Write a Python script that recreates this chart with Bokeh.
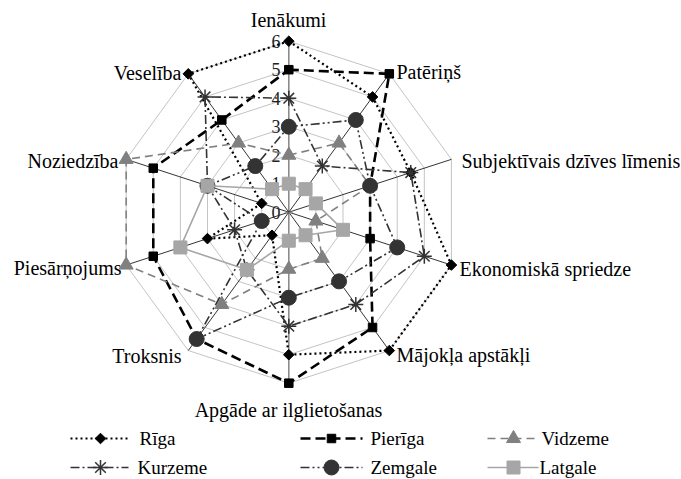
import math
from bokeh.plotting import figure
from bokeh.core.properties import value
from bokeh.embed import file_html
from bokeh.resources import INLINE

# ---------------- data ----------------
categories = ["Ienākumi", "Patēriņš", "Subjektīvais dzīves līmenis",
              "Ekonomiskā spriedze", "Mājokļa apstākļi",
              "Apgāde ar ilglietošanas", "Troksnis", "Piesārņojums",
              "Noziedzība", "Veselība"]
tick_values = [0, 1, 2, 3, 4, 5, 6]
tick_labels = ["0", "1", "2", "3", "4", "5", "6"]
series_names = ["Rīga", "Pierīga", "Vidzeme", "Kurzeme", "Zemgale", "Latgale"]
riga    = [6, 5, 4.5, 6, 6, 5, 1, 3, 1, 6]
pieriga = [5, 6, 3, 3, 5, 6, 5.5, 5, 5, 4]
vidzeme = [2, 3, 3, 1, 2, 2, 4, 6, 6, 3]
kurzeme = [4, 2, 4.5, 5, 4, 4, 2.5, 2, 3, 5]
zemgale = [3, 4, 3, 4, 3, 3, 5.5, 1, 3, 2]
latgale = [1, 1, 1, 2, 1, 1, 2.5, 4, 3, 1]

# ---------------- layout ----------------
W, H = 681, 479
CX, CY = 288.3, 211.7   # centre in pixels
U = 28.5                # pixels per value unit
FONT = value("Liberation Serif, Times New Roman, serif")

p = figure(width=W, height=H,
           x_range=(-CX / U, (W - CX) / U),
           y_range=(-(H - CY) / U, CY / U),
           output_backend="svg", toolbar_location=None, min_border=0,
           x_axis_location=None, y_axis_location=None,
           outline_line_color=None, background_fill_color="white",
           border_fill_color="white")
p.grid.visible = False


def X(px):
    return (px - CX) / U


def Y(py):
    return (CY - py) / U


n = len(categories)
angles = [2 * math.pi * i / n for i in range(n)]
maxv = max(tick_values)

# grid decagons
for lvl in tick_values[1:]:
    gx = [lvl * math.sin(a) for a in angles] + [0]
    gy = [lvl * math.cos(a) for a in angles] + [lvl]
    p.line(gx, gy, line_color="#c4c4c4", line_width=1)

# spokes
for i, a in enumerate(angles):
    vertical = abs(math.sin(a)) < 1e-9
    p.segment(x0=[0], y0=[0], x1=[maxv * math.sin(a)], y1=[maxv * math.cos(a)],
              line_color="#8c8c8c" if vertical else "black",
              line_width=1.6 if vertical else 0.8)

# value-axis tick marks and labels
p.segment(x0=[-4 / U] * len(tick_values), y0=tick_values,
          x1=[4 / U] * len(tick_values), y1=tick_values,
          line_color="#8c8c8c", line_width=1)
p.text(x=[X(280)] * len(tick_values), y=tick_values, text=tick_labels,
       text_font=FONT, text_font_size="18px", text_align="right",
       text_baseline="middle", text_color="#222222")

# category labels (pixel anchors)
label_pos = [
    (288, 19, "center"),
    (396, 71, "left"),
    (461, 160, "left"),
    (459, 268, "left"),
    (396, 354, "left"),
    (288, 409, "center"),
    (181, 355, "right"),
    (121, 267, "right"),
    (118, 160, "right"),
    (181, 72, "right"),
]
for cat, (lx, ly, al) in zip(categories, label_pos):
    p.text(x=[X(lx)], y=[Y(ly)], text=[cat], text_font=FONT,
           text_font_size="20px", text_align=al, text_baseline="middle",
           text_color="black")

styles = {
    "Rīga":    dict(lc="black", lw=2.2, dash="2 3", marker="square", size=7.5,
                    angle=math.pi / 4, fc="black"),
    "Pierīga": dict(lc="black", lw=2.6, dash="10 5", marker="square", size=8.5,
                    angle=0, fc="black"),
    "Vidzeme": dict(lc="#808080", lw=1.6, dash="8 5", marker="triangle", size=14,
                    angle=0, fc="#808080"),
    "Kurzeme": dict(lc="#333333", lw=1.6, dash="9 3 2 3", marker="asterisk", size=15,
                    angle=0, fc="#333333"),
    "Zemgale": dict(lc="#333333", lw=1.6, dash="9 3 2 3 2 3", marker="circle", size=15,
                    angle=0, fc="#333333"),
    "Latgale": dict(lc="#a6a6a6", lw=1.6, dash="solid", marker="square", size=13,
                    angle=0, fc="#a6a6a6"),
}
data = [riga, pieriga, vidzeme, kurzeme, zemgale, latgale]

for name, vals in zip(series_names, data):
    st = styles[name]
    xs = [v * math.sin(a) for v, a in zip(vals, angles)]
    ys = [v * math.cos(a) for v, a in zip(vals, angles)]
    p.line(xs + [xs[0]], ys + [ys[0]], line_color=st["lc"],
           line_width=st["lw"], line_dash=st["dash"])
    if st["marker"] == "asterisk":
        p.scatter(xs, ys, marker="asterisk", size=st["size"],
                  line_color=st["fc"], line_width=1.5)
    else:
        p.scatter(xs, ys, marker=st["marker"], size=st["size"], angle=st["angle"],
                  fill_color=st["fc"], line_color=st["fc"])

# legend (pixel layout)
legend_layout = [
    (70, 128, 100, 139, 438), (300, 362, 331, 370, 438), (487, 538, 513, 541, 438),
    (70, 128, 100, 137, 467), (300, 362, 331, 370, 467), (487, 538, 513, 539, 467),
]
for name, (x0, x1, xm, xt, yy) in zip(series_names, legend_layout):
    st = styles[name]
    p.segment(x0=[X(x0)], y0=[Y(yy)], x1=[X(x1)], y1=[Y(yy)],
              line_color=st["lc"], line_width=st["lw"], line_dash=st["dash"])
    if st["marker"] == "asterisk":
        p.scatter([X(xm)], [Y(yy)], marker="asterisk", size=st["size"],
                  line_color=st["fc"], line_width=1.5)
    else:
        p.scatter([X(xm)], [Y(yy)], marker=st["marker"], size=st["size"],
                  angle=st["angle"], fill_color=st["fc"], line_color=st["fc"])
    p.text(x=[X(xt)], y=[Y(yy)], text=[name], text_font=FONT,
           text_font_size="19px", text_align="left", text_baseline="middle",
           text_color="black")

open("out.html", "w").write(file_html(p, INLINE))
